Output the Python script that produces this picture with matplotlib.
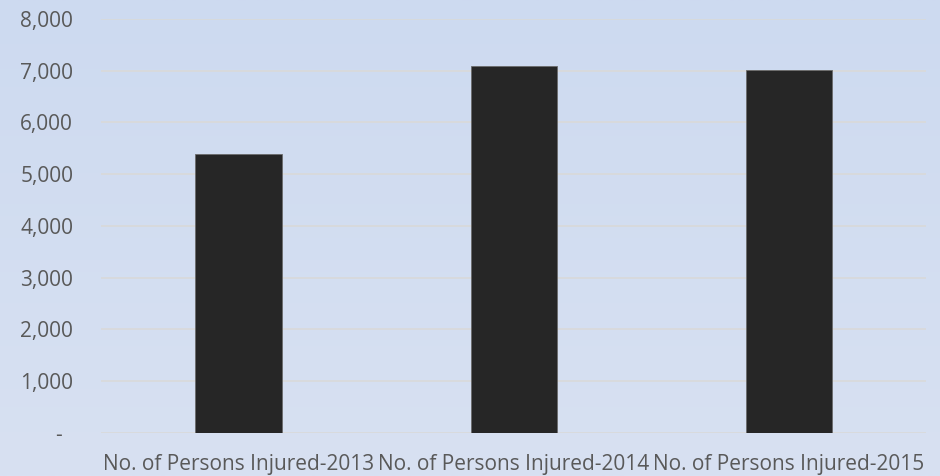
import matplotlib
matplotlib.use('Agg')
import matplotlib.pyplot as plt
import numpy as np

categories = ['No. of Persons Injured-2013', 'No. of Persons Injured-2014', 'No. of Persons Injured-2015']
injured = [5390, 7090, 7010]
yticks = [0, 1000, 2000, 3000, 4000, 5000, 6000, 7000, 8000]

plt.rcParams['font.family'] = ['Open Sans', 'DejaVu Sans']

fig = plt.figure(figsize=(9.4, 4.76), dpi=100)

# background gradient over the whole figure
bg = fig.add_axes([0, 0, 1, 1], zorder=-1)
grad = np.linspace(0, 1, 256).reshape(-1, 1)
top = np.array([205, 218, 240]) / 255
bot = np.array([216, 225, 242]) / 255
img = top + (bot - top) * grad[:, :, None]
bg.imshow(img, aspect='auto', extent=[0, 1, 0, 1])
bg.axis('off')

ax = fig.add_axes([0.1074, 0.0903, 0.878, 0.870])
ax.patch.set_alpha(0)
x = np.arange(len(categories))
ax.bar(x, injured, width=0.313, color='#262626', edgecolor='#6b6b6b', linewidth=0.6, zorder=3)
ax.set_xlim(-0.5, 2.5)
ax.set_ylim(0, 8000)
ax.set_yticks(yticks)
ax.set_yticklabels([('-  ' if v == 0 else f'{v:,}') for v in yticks])
ax.set_xticks(x)
ax.set_xticklabels(categories)
ax.grid(axis='y', color='#d9d9d9', linewidth=1.2, zorder=0)
for s in ax.spines.values():
    s.set_visible(False)
ax.tick_params(axis='both', length=0, colors='#595959', labelsize=15)
ax.tick_params(axis='y', pad=20)
ax.tick_params(axis='x', pad=15)

fig.savefig('out.png', dpi=100)
